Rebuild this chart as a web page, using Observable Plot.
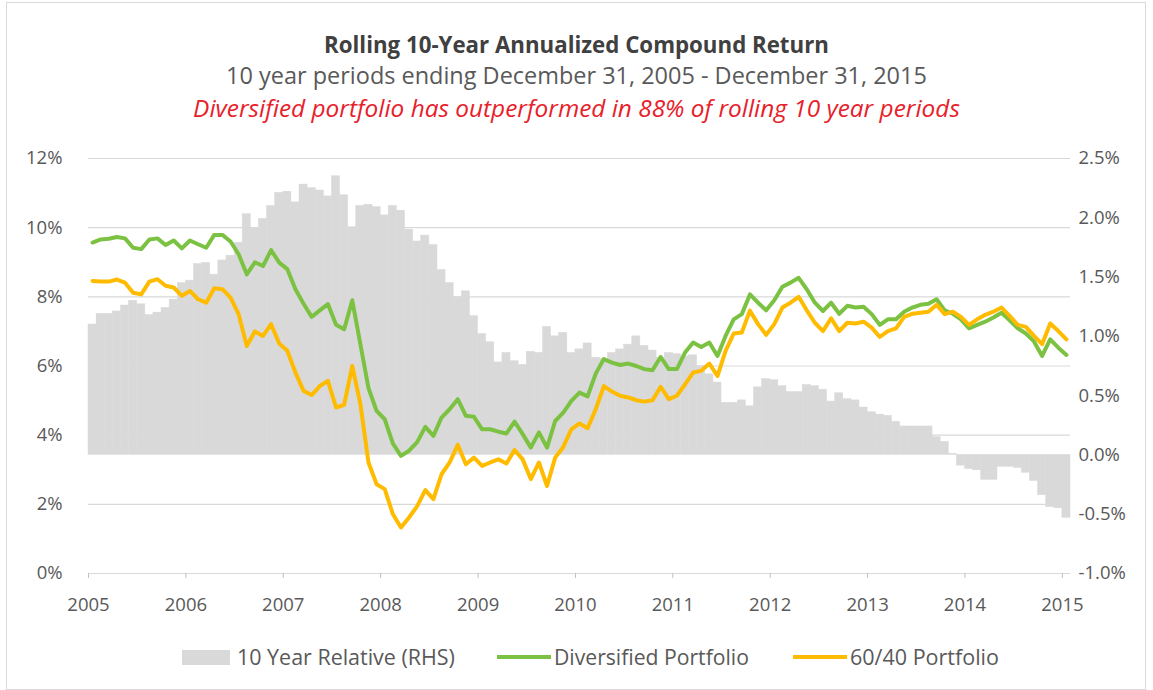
<!DOCTYPE html>
<html><head><meta charset="utf-8">
<script src="https://cdn.jsdelivr.net/npm/d3@7"></script>
<script src="https://cdn.jsdelivr.net/npm/@observablehq/plot@0.6"></script>
<style>
body{margin:0;background:#fff;font-family:"Open Sans",Lato,sans-serif;}
#frame{position:relative;width:1153px;height:690px;overflow:hidden;background:#fff}
#border{position:absolute;left:6px;top:2px;width:1140px;height:688px;border:1px solid #d9d9d9;box-sizing:border-box}
.t{position:absolute;left:0;width:1153px;text-align:center;white-space:nowrap;line-height:26px}
.t span{display:inline-block}
#title{top:32px;font-size:19px;font-weight:bold;color:#404040}
#sub{top:62px;font-size:20px;color:#595959}
#note{top:95px;font-size:20px;font-style:italic;color:#e8202a}
#chart{position:absolute;left:0;top:130px}
.lg{position:absolute;top:645px;font-size:18px;color:#595959;line-height:24px;white-space:nowrap}
.sw{position:absolute}
</style></head>
<body><div id="frame">
<div id="border"></div>
<div class="t" id="title"><span data-w="505">Rolling 10-Year Annualized Compound Return</span></div>
<div class="t" id="sub"><span data-w="701">10 year periods ending December 31, 2005 - December 31, 2015</span></div>
<div class="t" id="note"><span data-w="767">Diversified portfolio has outperformed in 88% of rolling 10 year periods</span></div>
<div id="chart"></div>
<div class="sw" style="left:182px;top:650px;width:48px;height:15px;background:#d9d9d9"></div>
<div class="lg" style="left:237px"><span data-w="218">10 Year Relative (RHS)</span></div>
<div class="sw" style="left:497px;top:655px;width:54px;height:4px;background:#7cc242"></div>
<div class="lg" style="left:554px"><span data-w="195">Diversified Portfolio</span></div>
<div class="sw" style="left:793px;top:655px;width:54px;height:4px;background:#ffbb00"></div>
<div class="lg" style="left:850px"><span data-w="149">60/40 Portfolio</span></div>
</div>
<script>
const startYear = 2005;
const yearTicks = [2005,2006,2007,2008,2009,2010,2011,2012,2013,2014,2015];
const leftTicks = [0,2,4,6,8,10,12];
const rightTicks = [-1.0,-0.5,0.0,0.5,1.0,1.5,2.0,2.5];

// 10 Year Relative (RHS), monthly, %
const relative = [1.10,1.19,1.19,1.21,1.26,1.30,1.27,1.18,1.20,1.24,1.31,1.45,1.47,1.61,1.62,1.52,1.64,1.68,1.79,2.03,
1.91,1.99,2.10,2.21,2.22,2.13,2.28,2.25,2.23,2.18,2.35,2.19,1.92,2.10,2.11,2.09,2.02,2.10,2.06,1.90,
1.80,1.85,1.77,1.56,1.45,1.33,1.38,1.17,1.02,0.95,0.78,0.86,0.79,0.76,0.87,0.86,1.08,1.00,1.03,0.86,
0.89,0.94,0.82,0.81,0.86,0.89,0.93,1.00,0.92,0.88,0.82,0.86,0.85,0.83,0.84,0.75,0.68,0.61,0.44,0.44,
0.46,0.41,0.57,0.64,0.63,0.58,0.53,0.53,0.59,0.58,0.55,0.45,0.52,0.47,0.46,0.40,0.36,0.34,0.33,0.28,
0.24,0.24,0.24,0.24,0.15,0.11,0.01,-0.09,-0.12,-0.13,-0.21,-0.21,-0.10,-0.10,-0.11,-0.15,-0.22,-0.34,-0.44,-0.45,
-0.53];

// Diversified Portfolio, %
const diversified = [9.57,9.66,9.68,9.73,9.69,9.42,9.38,9.66,9.69,9.50,9.63,9.40,9.63,9.52,9.42,9.79,9.79,9.60,9.23,8.65,
9.00,8.89,9.35,8.99,8.80,8.22,7.80,7.42,7.61,7.79,7.19,7.06,7.90,6.63,5.36,4.70,4.46,3.76,3.40,3.55,
3.80,4.24,3.98,4.51,4.75,5.04,4.56,4.53,4.17,4.17,4.10,4.05,4.39,4.03,3.64,4.08,3.64,4.41,4.65,4.99,
5.23,5.12,5.78,6.20,6.10,6.03,6.07,6.00,5.91,5.88,6.26,5.91,5.91,6.39,6.68,6.55,6.68,6.29,6.87,7.35,
7.50,8.07,7.83,7.61,7.90,8.29,8.41,8.55,8.22,7.83,7.59,7.83,7.51,7.74,7.69,7.71,7.50,7.19,7.35,7.35,
7.57,7.69,7.77,7.80,7.93,7.61,7.51,7.35,7.09,7.19,7.28,7.40,7.54,7.32,7.09,6.94,6.71,6.29,6.77,6.53,
6.32];

// 60/40 Portfolio, %
const sixtyForty = [8.46,8.44,8.44,8.50,8.41,8.12,8.07,8.44,8.51,8.32,8.27,8.03,8.17,7.93,7.83,8.25,8.22,7.98,7.50,6.58,
7.00,6.87,7.21,6.65,6.44,5.81,5.28,5.16,5.42,5.57,4.80,4.88,6.00,4.90,3.21,2.58,2.44,1.72,1.33,1.62,
1.95,2.41,2.15,2.87,3.21,3.72,3.16,3.35,3.11,3.21,3.30,3.18,3.57,3.30,2.73,3.21,2.53,3.35,3.66,4.17,
4.34,4.20,4.75,5.42,5.26,5.14,5.09,5.01,4.97,5.01,5.40,5.04,5.14,5.47,5.81,5.86,6.07,5.71,6.44,6.94,
6.97,7.60,7.21,6.90,7.21,7.69,7.83,8.00,7.61,7.25,7.01,7.38,7.01,7.25,7.23,7.28,7.11,6.84,7.01,7.09,
7.42,7.51,7.54,7.57,7.77,7.50,7.57,7.42,7.19,7.35,7.48,7.57,7.69,7.45,7.19,7.13,6.87,6.63,7.23,7.01,
6.77];

// right axis (-1.0 .. 2.5) mapped onto left axis (0 .. 12)
const toLeft = r => (r + 1) * 12 / 3.5;
const fromLeft = l => l * 3.5 / 12 - 1;

const data = relative.map((r, i) => ({
  t: startYear + i / 12,
  rel: r,
  div: diversified[i],
  bal: sixtyForty[i]
}));

const chart = Plot.plot({
  width: 1153,
  height: 500,
  marginTop: 28,
  marginBottom: 57,
  marginLeft: 88,
  marginRight: 83,
  x: {domain: [2005, 2015 + 1/12], axis: null, label: null},
  y: {domain: [0, 12], axis: null, label: null},
  style: {fontFamily: "'Open Sans', Lato, sans-serif", fontSize: "18.5px", color: "#595959", background: "transparent", overflow: "visible"},
  marks: [
    Plot.ruleY(leftTicks, {stroke: "#d9d9d9", strokeWidth: 1.2}),
    Plot.rect(data, {x1: "t", x2: d => d.t + 1/12, y1: () => toLeft(0), y2: d => toLeft(d.rel), fill: "#d9d9d9", stroke: "#d9d9d9", strokeWidth: 0.5}),
    Plot.line(data, {x: d => d.t + 1/24, y: "div", stroke: "#7cc242", strokeWidth: 4, strokeLinejoin: "round"}),
    Plot.line(data, {x: d => d.t + 1/24, y: "bal", stroke: "#ffbb00", strokeWidth: 4, strokeLinejoin: "round"}),
    Plot.axisY(leftTicks, {anchor: "left", tickSize: 0, tickPadding: 26, tickFormat: d => d + "%", fill: "#595959", label: null}),
    Plot.axisY(rightTicks.map(toLeft), {anchor: "right", tickSize: 0, tickPadding: 8, tickFormat: v => fromLeft(v).toFixed(1) + "%", fill: "#595959", label: null}),
    Plot.axisX(yearTicks, {tickSize: 5, tickPadding: 19, tickFormat: d => String(d), stroke: "#bfbfbf", fill: "#595959", label: null})
  ]
});
document.getElementById("chart").appendChild(chart);

// fit text blocks to the widths seen in the reference
document.querySelectorAll("span[data-w]").forEach(el => {
  const target = +el.dataset.w;
  const cs = parseFloat(getComputedStyle(el).fontSize);
  const w = el.getBoundingClientRect().width;
  if (w > 0) el.style.fontSize = (cs * target / w).toFixed(2) + "px";
});
</script>
</body></html>
